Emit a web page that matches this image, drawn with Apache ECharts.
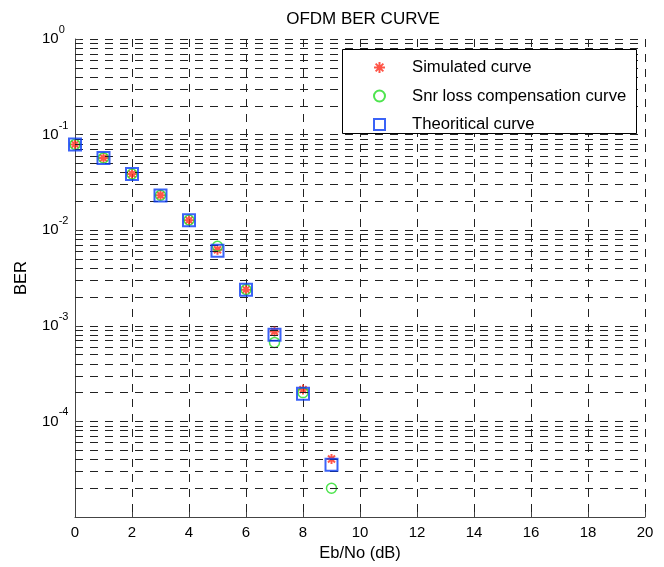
<!DOCTYPE html>
<html>
<head>
<meta charset="utf-8">
<script src="https://cdn.jsdelivr.net/npm/echarts@6/dist/echarts.min.js"></script>
<style>
html,body{margin:0;padding:0;background:#fff;}
#chart{width:664px;height:567px;}
</style>
</head>
<body>
<div id="chart"></div>
<script>
// ---- data ----
const ebNo = [0, 1, 2, 3, 4, 5, 6, 7, 8, 9];
const simulated   = [0.079, 0.057, 0.0387, 0.0232, 0.0127, 0.00625, 0.00239, 0.00087, 0.000215, 0.0000405];
const snrLoss     = [0.079, 0.057, 0.0387, 0.0232, 0.0128, 0.0068, 0.00240, 0.00067, 0.000200, 0.0000200];
const theoretical = [0.079, 0.057, 0.0387, 0.0231, 0.0127, 0.0061, 0.00239, 0.000805, 0.000195, 0.0000352];
const xTicks = [0, 2, 4, 6, 8, 10, 12, 14, 16, 18, 20];
const yDecadeExponents = [-5, -4, -3, -2, -1, 0];
const minorMultipliers = [2, 3, 4, 5, 6, 7, 8, 9];
const seriesNames = ['Simulated curve', 'Snr loss compensation curve', 'Theoritical curve'];

const FONT = 'Liberation Sans, Arial, Helvetica, sans-serif';
const DASH = [8, 7];
const GRID_COLOR = '#222';

const minorLines = [];
yDecadeExponents.slice(0, -1).forEach(function (e) {
  minorMultipliers.forEach(function (k) {
    minorLines.push({ yAxis: Number((k * Math.pow(10, e)).toPrecision(3)) });
  });
});

const starPath = 'path://M5,0L5,10M0,5L10,5M1.5,1.5L8.5,8.5M1.5,8.5L8.5,1.5';

const chart = echarts.init(document.getElementById('chart'), null, { renderer: 'canvas' });
chart.setOption({
  animation: false,
  backgroundColor: '#fff',
  textStyle: { fontFamily: FONT },
  title: {
    text: 'OFDM BER CURVE',
    left: 358,
    textAlign: 'center',
    top: 6,
    textStyle: { fontSize: 17, fontWeight: 'normal', color: '#000', fontFamily: FONT }
  },
  grid: { left: 75, right: 19, top: 39, bottom: 50, containLabel: false, outerBoundsMode: 'none' },
  xAxis: {
    type: 'value',
    min: xTicks[0],
    max: xTicks[xTicks.length - 1],
    interval: xTicks[1] - xTicks[0],
    name: 'Eb/No (dB)',
    nameLocation: 'middle',
    nameGap: 28,
    nameTextStyle: { fontSize: 16.5, color: '#000', fontFamily: FONT },
    axisLine: { show: true, onZero: false, lineStyle: { color: '#444', width: 1 } },
    axisTick: { show: true, inside: true, length: 5, lineStyle: { color: '#444' } },
    axisLabel: { show: true, margin: 8, fontSize: 15, color: '#000', fontFamily: FONT },
    splitLine: { show: true, lineStyle: { color: GRID_COLOR, type: DASH, width: 1 } }
  },
  yAxis: {
    type: 'log',
    logBase: 10,
    min: Math.pow(10, yDecadeExponents[0]),
    max: Math.pow(10, yDecadeExponents[yDecadeExponents.length - 1]),
    name: 'BER',
    nameLocation: 'middle',
    nameGap: 45,
    nameTextStyle: { fontSize: 16.5, color: '#000', fontFamily: FONT },
    axisLine: { show: true, lineStyle: { color: '#444', width: 1 } },
    axisTick: { show: true, inside: true, length: 5, lineStyle: { color: '#444' } },
    axisLabel: {
      show: true,
      margin: 33,
      align: 'left',
      padding: [0, 0, 7, 0],
      color: '#000',
      fontFamily: FONT,
      formatter: function (v) {
        const e = Math.round(Math.log10(v));
        if (e <= yDecadeExponents[0]) return '';
        return '{b|10}{s|' + e + '}';
      },
      rich: {
        b: { fontSize: 15, lineHeight: 22, verticalAlign: 'bottom', color: '#000', fontFamily: FONT },
        s: { fontSize: 11, verticalAlign: 'top', color: '#000', fontFamily: FONT }
      }
    },
    splitLine: { show: true, lineStyle: { color: GRID_COLOR, type: DASH, width: 1 } }
  },
  legend: {
    orient: 'vertical',
    left: 373,
    top: 59,
    padding: 0,
    itemGap: 11.5,
    itemWidth: 11,
    itemHeight: 11,
    z: 10,
    data: seriesNames,
    textStyle: { fontSize: 16.7, color: '#000', fontFamily: FONT, lineHeight: 14, padding: [0, 0, 0, 22] }
  },
  graphic: [{
    type: 'rect',
    z: 9,
    silent: true,
    shape: { x: 342.5, y: 49.5, width: 294, height: 84 },
    style: { fill: '#fff', stroke: '#000', lineWidth: 1 }
  }],
  series: [
    {
      name: 'minor grid',
      type: 'line',
      data: [],
      z: 1,
      silent: true,
      markLine: {
        silent: true,
        precision: 10,
        symbol: ['none', 'none'],
        label: { show: false },
        emphasis: { disabled: true },
        lineStyle: { color: GRID_COLOR, type: DASH, width: 1 },
        data: minorLines
      }
    },
    {
      name: seriesNames[0],
      type: 'scatter',
      data: ebNo.map(function (x, i) { return [x, simulated[i]]; }),
      symbol: starPath,
      symbolSize: 10,
      itemStyle: { color: 'rgba(0,0,0,0)', borderColor: '#ff2a1a', borderWidth: 2 },
      z: 3
    },
    {
      name: seriesNames[1],
      type: 'scatter',
      data: ebNo.map(function (x, i) { return [x, snrLoss[i]]; }),
      symbol: 'circle',
      symbolSize: 10,
      itemStyle: { color: 'rgba(0,0,0,0)', borderColor: '#22dd22', borderWidth: 1.5 },
      z: 4
    },
    {
      name: seriesNames[2],
      type: 'scatter',
      data: ebNo.map(function (x, i) { return [x, theoretical[i]]; }),
      symbol: 'rect',
      symbolSize: 12,
      itemStyle: { color: 'rgba(0,0,0,0)', borderColor: '#0a3cf5', borderWidth: 2 },
      z: 5
    }
  ]
});
</script>
</body>
</html>
